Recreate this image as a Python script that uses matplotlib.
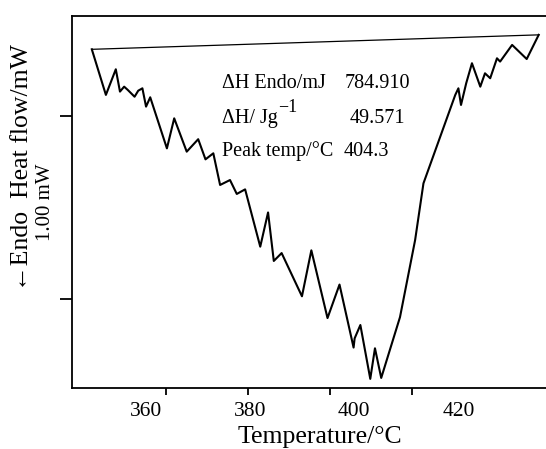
import matplotlib
matplotlib.use("Agg")
import matplotlib.pyplot as plt

plt.rcParams['font.family'] = ['Liberation Serif', 'DejaVu Serif']

# DSC trace (temperature in °C, heat flow in mW)
temp = [349.7, 352.4, 354.3, 355.1, 355.9, 356.6, 357.9, 358.6, 359.4, 360.1,
        360.9, 364.1, 365.5, 367.9, 370.1, 371.5, 373.0, 374.3, 376.2, 377.5,
        379.1, 382.0, 383.5, 384.6, 386.1, 390.0, 391.8, 394.9, 397.2, 399.9,
        400.1, 401.2, 403.1, 404.0, 405.2, 408.8, 411.7, 413.3, 419.4, 420.0,
        420.5, 421.5, 422.6, 424.2, 425.1, 426.1, 427.4, 428.0, 430.3, 433.1,
        435.4]
heat_flow = [0.364, 0.115, 0.255, 0.133, 0.160, 0.142, 0.105, 0.138, 0.151, 0.051,
             0.102, -0.177, -0.013, -0.195, -0.127, -0.237, -0.204, -0.377, -0.350, -0.426,
             -0.401, -0.714, -0.527, -0.792, -0.749, -0.985, -0.734, -1.104, -0.921, -1.265,
             -1.215, -1.142, -1.436, -1.269, -1.431, -1.099, -0.678, -0.368, 0.115, 0.151,
             0.060, 0.179, 0.288, 0.160, 0.233, 0.206, 0.315, 0.297, 0.388, 0.311,
             0.443]

x_labels = [360, 380, 400, 420]
x_marks = [363.9, 379.7, 395.4, 411.1]
y_marks = [0.0, -1.0]

dh_endo = "784.910"
dh_spec = "49.571"
peak_temp = "404.3"

fig = plt.figure(figsize=(5.46, 4.49), dpi=100)
ax = fig.add_axes([72 / 546, 1 - 388 / 449, 1 - 72 / 546, (388 - 16) / 449])

# curve and the baseline joining its two ends
ax.plot(temp, heat_flow, color='black', lw=1.5)
ax.plot([temp[0], temp[-1]], [heat_flow[0], heat_flow[-1]], color='black', lw=0.9)

ax.set_xlim(345.9, 436.8)
ax.set_ylim(-1.486, 0.546)

ax.spines['right'].set_visible(False)
for s in ['left', 'bottom', 'top']:
    ax.spines[s].set_linewidth(1.3)

ax.set_xticks(x_labels)
ax.set_xticklabels([str(v) for v in x_labels], fontsize=15.5)
ax.tick_params(axis='x', which='major', length=0, pad=10)
ax.set_xticks(x_marks, minor=True)
ax.tick_params(axis='x', which='minor', length=5, width=1.3, direction='out')

ax.set_yticks(y_marks)
ax.set_yticklabels([])
ax.tick_params(axis='y', length=9, width=1.3, direction='out')

ax.set_xlabel("Temperature/°C", fontsize=18.5, va='baseline')
ax.xaxis.set_label_coords(0.523, -0.148)

fig.text(22 / 546, 1 - 168 / 449, "←Endo  Heat flow/mW", rotation=90,
         ha='center', va='center', fontsize=18.5)
fig.text(45 / 546, 1 - 202 / 449, "1.00 mW", rotation=90,
         ha='center', va='center', fontsize=15)

# result box
fs = 14.5
ax.text(0.316, 0.806, "ΔH Endo/mJ", transform=ax.transAxes, fontsize=fs, va='baseline')
ax.text(0.576, 0.806, dh_endo, transform=ax.transAxes, fontsize=fs, va='baseline')
ax.text(0.316, 0.712, "ΔH/ Jg", transform=ax.transAxes, fontsize=fs, va='baseline')
ax.text(0.435, 0.742, "\u22121", transform=ax.transAxes, fontsize=13, va='baseline')
ax.text(0.702, 0.712, dh_spec, transform=ax.transAxes, fontsize=fs, va='baseline', ha='right')
ax.text(0.316, 0.624, "Peak temp/°C", transform=ax.transAxes, fontsize=fs, va='baseline')
ax.text(0.572, 0.624, peak_temp, transform=ax.transAxes, fontsize=fs, va='baseline')

fig.savefig("out.png", dpi=100)
